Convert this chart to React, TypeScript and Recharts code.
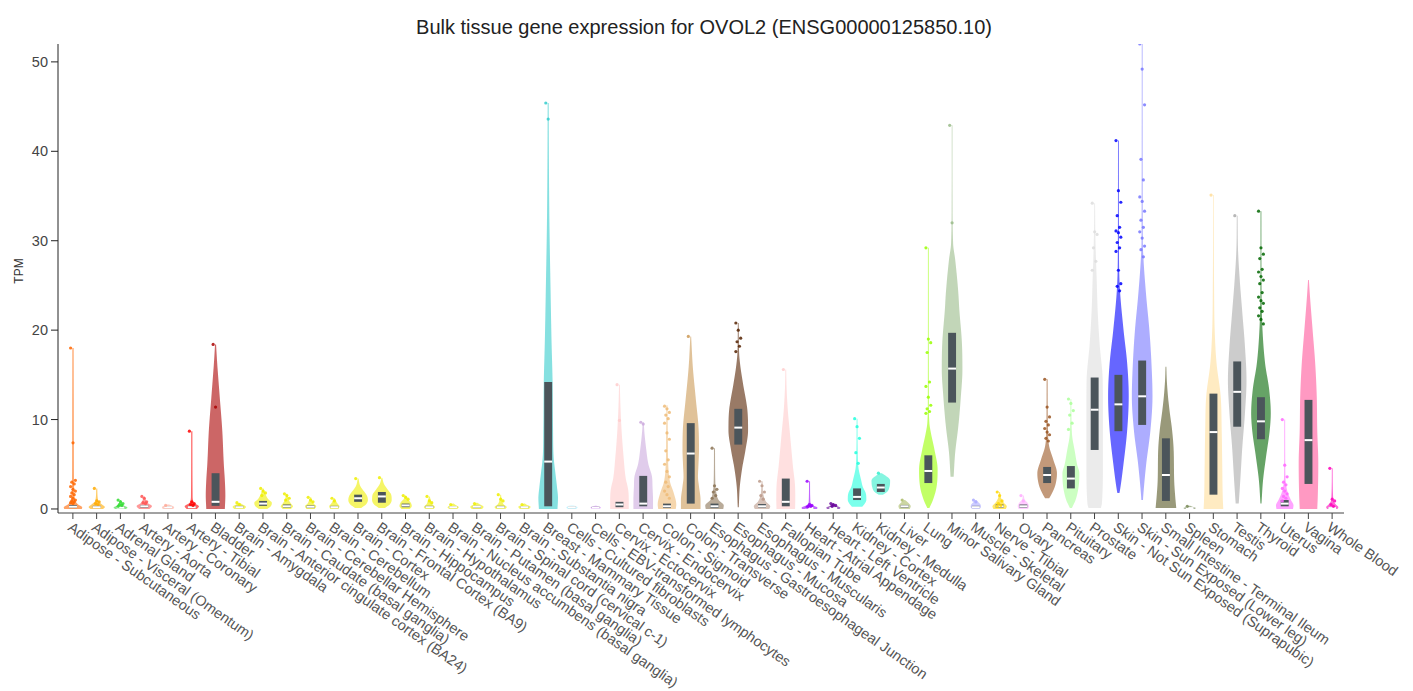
import React from 'react';
import { ComposedChart, Bar, XAxis, YAxis } from 'recharts';

const tissues = [
  'Adipose - Subcutaneous', 'Adipose - Visceral (Omentum)', 'Adrenal Gland', 'Artery - Aorta', 'Artery - Coronary',
  'Artery - Tibial', 'Bladder', 'Brain - Amygdala', 'Brain - Anterior cingulate cortex (BA24)', 'Brain - Caudate (basal ganglia)',
  'Brain - Cerebellar Hemisphere', 'Brain - Cerebellum', 'Brain - Cortex', 'Brain - Frontal Cortex (BA9)', 'Brain - Hippocampus',
  'Brain - Hypothalamus', 'Brain - Nucleus accumbens (basal ganglia)', 'Brain - Putamen (basal ganglia)', 'Brain - Spinal cord (cervical c-1)', 'Brain - Substantia nigra',
  'Breast - Mammary Tissue', 'Cells - Cultured fibroblasts', 'Cells - EBV-transformed lymphocytes', 'Cervix - Ectocervix', 'Cervix - Endocervix',
  'Colon - Sigmoid', 'Colon - Transverse', 'Esophagus - Gastroesophageal Junction', 'Esophagus - Mucosa', 'Esophagus - Muscularis',
  'Fallopian Tube', 'Heart - Atrial Appendage', 'Heart - Left Ventricle', 'Kidney - Cortex', 'Kidney - Medulla',
  'Liver', 'Lung', 'Minor Salivary Gland', 'Muscle - Skeletal', 'Nerve - Tibial',
  'Ovary', 'Pancreas', 'Pituitary', 'Prostate', 'Skin - Not Sun Exposed (Suprapubic)',
  'Skin - Sun Exposed (Lower leg)', 'Small Intestine - Terminal Ileum', 'Spleen', 'Stomach', 'Testis',
  'Thyroid', 'Uterus', 'Vagina', 'Whole Blood',
];

const colors = [
  '#FF6600', '#FFAA00', '#33DD33', '#FF5555', '#FFAA99',
  '#FF0000', '#AA0000', '#EEEE00', '#EEEE00', '#EEEE00',
  '#EEEE00', '#EEEE00', '#EEEE00', '#EEEE00', '#EEEE00',
  '#EEEE00', '#EEEE00', '#EEEE00', '#EEEE00', '#EEEE00',
  '#33CCCC', '#AAEEFF', '#CC66FF', '#FFCCCC', '#CCAADD',
  '#EEBB77', '#CC9955', '#8B7355', '#552200', '#BB9988',
  '#FFCCCC', '#9900FF', '#660099', '#22FFDD', '#33EECC',
  '#AABB66', '#99FF00', '#99BB88', '#AAAAFF', '#FFD700',
  '#FFAAFF', '#995522', '#AAFF99', '#DDDDDD', '#0000FF',
  '#7777FF', '#555522', '#778855', '#FFDD99', '#AAAAAA',
  '#006600', '#FF66FF', '#FF5599', '#FF00BB',
];

// top of each violin (max TPM)
const maxTpm = [
  18.0, 2.3, 1.0, 1.4, 0.5, 8.7, 18.4, 0.7, 2.3, 1.7,
  1.3, 1.2, 3.4, 3.5, 1.5, 1.4, 0.6, 0.7, 1.6, 0.6,
  45.4, 0.4, 0.35, 13.9, 9.7, 11.6, 19.3, 6.8, 20.8, 3.1,
  15.6, 3.1, 0.6, 10.1, 4.0, 1.0, 29.2, 42.9, 1.0, 1.9,
  1.5, 14.5, 12.3, 34.2, 41.2, 52.0, 15.9, 0.35, 35.1, 32.8,
  33.3, 10.0, 25.6, 4.55,
];

const q1 = [
  0.1, 0.1, 0.1, 0.15, 0.1, 0.1, 0.35, 0.1, 0.35, 0.15,
  0.1, 0.1, 0.8, 0.7, 0.2, 0.1, 0.1, 0.1, 0.1, 0.1,
  0.3, 0.1, 0.1, 0.2, 0.3, 0.1, 0.6, 0.1, 7.2, 0.15,
  0.3, 0.05, 0.05, 1.0, 1.9, 0.15, 2.9, 11.9, 0.1, 0.15,
  0.15, 2.9, 2.3, 6.6, 8.7, 9.4, 0.9, 0.05, 1.6, 9.2,
  7.8, 0.3, 2.8, 0.05,
];

const median = [
  0.25, 0.2, 0.15, 0.3, 0.2, 0.2, 0.8, 0.2, 0.6, 0.3,
  0.25, 0.2, 1.2, 1.4, 0.4, 0.2, 0.2, 0.25, 0.2, 0.2,
  5.3, 0.2, 0.15, 0.5, 0.6, 0.3, 6.2, 0.3, 9.1, 0.3,
  0.8, 0.1, 0.1, 1.35, 2.4, 0.3, 4.25, 15.7, 0.2, 0.3,
  0.3, 3.8, 3.4, 11.1, 11.7, 12.6, 3.8, 0.1, 8.6, 13.1,
  9.8, 0.6, 7.7, 0.1,
];

const q3 = [
  0.45, 0.35, 0.25, 0.45, 0.3, 0.35, 4.0, 0.35, 0.9, 0.5,
  0.4, 0.35, 1.6, 1.9, 0.6, 0.35, 0.3, 0.35, 0.35, 0.3,
  14.2, 0.3, 0.25, 0.8, 3.7, 0.6, 9.6, 0.6, 11.2, 0.55,
  3.4, 0.2, 0.2, 2.3, 2.8, 0.45, 6.0, 19.7, 0.35, 0.5,
  0.5, 4.7, 4.8, 14.7, 15.0, 16.6, 7.9, 0.15, 12.9, 16.5,
  12.5, 1.0, 12.2, 0.2,
];

// violin outline: [TPM, relative density width]
const violinProfiles: number[][][] = [
  [[0, 0.85], [0.2, 0.9], [0.5, 0.5], [1, 0.2], [2, 0.12], [3.5, 0.09], [8, 0.08], [18, 0.06]],
  [[0, 0.6], [0.2, 0.8], [0.5, 0.5], [0.9, 0.15], [2.3, 0.05]],
  [[0, 0.5], [0.15, 0.7], [0.4, 0.3], [1.0, 0.05]],
  [[0, 0.5], [0.3, 0.75], [0.7, 0.3], [1.4, 0.05]],
  [[0, 0.5], [0.2, 0.6], [0.5, 0.1]],
  [[0, 0.5], [0.3, 0.7], [0.7, 0.2], [1.5, 0.08], [8.7, 0.06]],
  [[0, 0.9], [1.5, 0.95], [3.2, 0.9], [5, 0.8], [8.8, 0.65], [12.6, 0.4], [16.3, 0.16], [18.4, 0.05]],
  [[0, 0.5], [0.25, 0.65], [0.5, 0.3], [0.7, 0.05]],
  [[0, 0.4], [0.3, 0.75], [0.7, 0.85], [1.1, 0.5], [1.6, 0.25], [2.3, 0.05]],
  [[0, 0.4], [0.3, 0.6], [0.6, 0.4], [1.0, 0.2], [1.7, 0.05]],
  [[0, 0.4], [0.3, 0.55], [0.6, 0.3], [1.3, 0.05]],
  [[0, 0.4], [0.3, 0.5], [0.6, 0.3], [1.2, 0.05]],
  [[0.1, 0.3], [0.5, 0.75], [1.0, 0.95], [1.5, 0.85], [2.0, 0.55], [2.6, 0.2], [3.4, 0.04]],
  [[0.1, 0.3], [0.5, 0.75], [1.0, 0.95], [1.6, 0.9], [2.2, 0.55], [2.8, 0.2], [3.5, 0.04]],
  [[0, 0.4], [0.3, 0.6], [0.7, 0.5], [1.1, 0.2], [1.5, 0.05]],
  [[0, 0.4], [0.2, 0.55], [0.5, 0.3], [1.4, 0.04]],
  [[0, 0.4], [0.2, 0.55], [0.4, 0.3], [0.6, 0.05]],
  [[0, 0.5], [0.25, 0.65], [0.5, 0.3], [0.7, 0.05]],
  [[0, 0.45], [0.2, 0.6], [0.5, 0.3], [1.0, 0.1], [1.6, 0.04]],
  [[0, 0.45], [0.25, 0.6], [0.45, 0.25], [0.6, 0.05]],
  [[0, 0.9], [1.2, 0.95], [2.5, 0.85], [4, 0.7], [5.8, 0.53], [9, 0.47], [14, 0.43], [19, 0.32], [24.5, 0.23], [32, 0.12], [39, 0.07], [45.4, 0.05]],
  [[0, 0.4], [0.15, 0.55], [0.3, 0.4], [0.4, 0.1]],
  [[0, 0.35], [0.15, 0.5], [0.3, 0.25], [0.35, 0.05]],
  [[0, 0.9], [1, 0.9], [2.1, 0.85], [3.5, 0.6], [5.8, 0.4], [8, 0.25], [10, 0.15], [12, 0.08], [13.9, 0.04]],
  [[0, 0.95], [1, 0.95], [2.5, 0.9], [3.6, 0.85], [5, 0.5], [6.6, 0.3], [8.5, 0.12], [9.7, 0.05]],
  [[0, 0.85], [0.5, 0.9], [1.8, 0.65], [3, 0.3], [5, 0.12], [8, 0.08], [11.6, 0.05]],
  [[0, 0.95], [1, 0.95], [2.5, 0.8], [3.6, 0.7], [5, 0.75], [6.6, 0.8], [9.2, 0.75], [12.2, 0.5], [15.9, 0.2], [19.3, 0.04]],
  [[0, 0.85], [0.4, 0.9], [1, 0.4], [2, 0.15], [3, 0.08], [6.8, 0.05]],
  [[0.2, 0.05], [2.5, 0.15], [4.7, 0.4], [6.6, 0.7], [8.8, 0.95], [11.1, 0.88], [14.1, 0.45], [16, 0.2], [17.5, 0.08], [20.8, 0.04]],
  [[0, 0.7], [0.3, 0.8], [0.8, 0.4], [1.5, 0.15], [3.1, 0.05]],
  [[0, 0.9], [1, 0.92], [2.5, 0.9], [4.7, 0.7], [8.5, 0.4], [11, 0.2], [13.5, 0.08], [15.6, 0.04]],
  [[0, 0.7], [0.15, 0.8], [0.4, 0.3], [0.8, 0.08], [3.1, 0.05]],
  [[0, 0.6], [0.15, 0.7], [0.35, 0.3], [0.6, 0.05]],
  [[0.25, 0.5], [0.6, 0.75], [1, 0.9], [1.75, 0.85], [2.5, 0.55], [3.2, 0.4], [4.5, 0.15], [6, 0.07], [10.1, 0.04]],
  [[1.6, 0.2], [1.9, 0.6], [2.5, 0.85], [3.2, 0.9], [3.7, 0.5], [4.0, 0.1]],
  [[0, 0.5], [0.3, 0.6], [0.7, 0.35], [1.0, 0.05]],
  [[0.1, 0.1], [1, 0.45], [2.5, 0.8], [4.4, 0.9], [6.6, 0.6], [8.5, 0.25], [9.6, 0.1], [12, 0.05], [29.2, 0.04]],
  [[3.6, 0.15], [6.3, 0.3], [9.2, 0.6], [12.6, 0.85], [15.6, 1.0], [18.6, 0.95], [22.3, 0.7], [24.2, 0.6], [27.9, 0.3], [29.7, 0.1], [35, 0.04], [42.9, 0.03]],
  [[0, 0.35], [0.2, 0.5], [0.5, 0.45], [0.8, 0.2], [1.0, 0.05]],
  [[0, 0.6], [0.3, 0.7], [0.7, 0.4], [1.2, 0.15], [1.9, 0.04]],
  [[0, 0.45], [0.3, 0.55], [0.7, 0.4], [1.0, 0.15], [1.5, 0.04]],
  [[1.2, 0.2], [1.6, 0.4], [2.5, 0.75], [3.4, 0.92], [4.0, 0.95], [5.5, 0.6], [7, 0.2], [9, 0.08], [14.5, 0.05]],
  [[0.1, 0.1], [1, 0.45], [2.5, 0.75], [4, 0.82], [5, 0.6], [6.3, 0.4], [8.5, 0.1], [12.3, 0.04]],
  [[0.1, 0.6], [0.6, 0.7], [5.1, 0.8], [10.7, 0.8], [14.4, 0.78], [18.2, 0.5], [22, 0.3], [25.6, 0.2], [30, 0.08], [34.2, 0.04]],
  [[1.8, 0.1], [2.1, 0.15], [5.1, 0.5], [8.8, 0.85], [12.6, 1.0], [16.3, 0.85], [20, 0.5], [24.5, 0.15], [28, 0.06], [41.2, 0.04]],
  [[1.0, 0.08], [1.4, 0.1], [5.1, 0.4], [8.8, 0.8], [12.6, 1.0], [16.3, 0.9], [20, 0.7], [23.7, 0.4], [27.5, 0.15], [30, 0.06], [52, 0.04]],
  [[0.1, 1.0], [1.4, 0.9], [3.2, 0.8], [6.6, 0.75], [8.8, 0.6], [11, 0.35], [12.6, 0.2], [14.5, 0.08], [15.9, 0.04]],
  [[0, 0.5], [0.1, 0.6], [0.25, 0.3], [0.35, 0.05]],
  [[0, 0.95], [1.4, 0.9], [5.1, 0.85], [8.8, 0.8], [12.6, 0.7], [16.3, 0.3], [20, 0.12], [25, 0.06], [35.1, 0.03]],
  [[0.6, 0.15], [3.2, 0.3], [7.0, 0.5], [10.7, 0.75], [14.4, 0.9], [18.2, 0.75], [21.9, 0.5], [25.6, 0.25], [29, 0.08], [32.8, 0.04]],
  [[0.6, 0.05], [3.2, 0.2], [5.9, 0.5], [8.8, 0.85], [10.7, 0.95], [13.3, 0.8], [16.3, 0.4], [20, 0.15], [24, 0.06], [33.3, 0.04]],
  [[0, 0.8], [0.4, 0.85], [1, 0.6], [1.8, 0.3], [3, 0.1], [5, 0.05], [10, 0.04]],
  [[0, 0.85], [1.4, 0.9], [5.1, 0.95], [8.8, 0.85], [12.6, 0.8], [16.3, 0.65], [20, 0.4], [23.7, 0.15], [25.6, 0.04]],
  [[0, 0.5], [0.2, 0.6], [0.5, 0.35], [1, 0.1], [4.55, 0.04]],
];

const outlierPoints: number[][] = [
  [18.0, 7.4, 3.2, 3.0, 2.8, 2.5, 2.2, 2.0, 1.8, 1.6, 1.4, 1.2, 1.0, 0.9, 0.8, 0.7, 0.6],
  [2.3, 0.9, 0.8, 0.6, 0.5],
  [1.0, 0.8, 0.6, 0.5, 0.4, 0.3],
  [1.4, 1.2, 0.8, 0.7, 0.6],
  [0.4],
  [8.7, 0.8, 0.6, 0.5, 0.4],
  [18.4, 11.4],
  [0.7, 0.5],
  [2.3, 2.0, 1.8, 1.5],
  [1.7, 1.5, 1.2, 1.0],
  [1.3, 1.0, 0.8],
  [1.2, 0.9],
  [3.4],
  [3.5],
  [1.5, 1.3, 1.1],
  [1.4, 0.9, 0.7],
  [0.5],
  [0.6],
  [1.6, 1.1, 0.9],
  [0.5],
  [45.4, 43.6],
  [],
  [],
  [13.9, 9.9],
  [9.7, 9.5],
  [11.5, 11.2, 10.8, 10.5, 10.1, 9.6, 8.5, 7.8, 6.5, 5.5, 5.0, 4.2, 3.6, 3.0, 2.5, 2.0, 1.6, 1.2],
  [19.3],
  [6.8, 2.6, 2.2, 1.9, 1.5, 1.2],
  [20.8, 20.0, 19.1, 18.7, 18.2, 17.6],
  [3.1, 2.6, 1.9, 1.5, 1.1],
  [15.6],
  [3.1, 0.5, 0.4, 0.3, 0.3, 0.2],
  [0.6, 0.5, 0.4, 0.3],
  [10.1, 9.2, 7.9, 6.3, 5.1],
  [4.0],
  [1.0],
  [29.2, 19.0, 18.6, 17.5, 14.2, 13.7, 12.5, 11.6, 11.2, 10.9, 10.7],
  [42.9, 32.0],
  [1.0, 0.8],
  [1.9, 1.5, 0.9, 0.6, 0.4, 0.3],
  [1.5, 0.9],
  [14.5, 11.4, 10.3, 9.8, 9.4, 9.0, 8.6, 8.3, 7.9, 7.6],
  [12.3, 11.8, 11.0, 10.5, 9.6, 8.9],
  [34.2, 31.0, 30.7, 29.2, 27.7, 26.7],
  [41.2, 35.6, 34.3, 32.8, 31.5, 31.1, 30.9, 30.4, 29.8, 29.2, 28.8, 26.7, 25.2, 24.9, 24.4],
  [52.0, 49.2, 45.2, 39.1, 36.8, 34.9, 34.4, 33.3, 32.3, 31.5, 31.0, 30.3, 29.4, 29.0, 28.2],
  [],
  [0.3],
  [35.1],
  [32.8],
  [33.3, 29.2, 28.5, 28.0, 26.8, 26.5, 26.0, 25.6, 25.2, 24.2, 23.7, 23.3, 23.0, 22.5, 22.1, 21.6, 21.2, 20.7],
  [10.0, 4.9, 3.6, 3.0, 2.7, 2.3, 2.0, 1.7, 1.4, 1.2, 0.9],
  [],
  [4.55, 1.1, 0.9, 0.5, 0.3],
];

const yTicks = [0, 10, 20, 30, 40, 50];

const chartData = tissues.map((t, i) => ({ tissue: t, idx: i, range: [0, maxTpm[i]] }));

const FONT = '"Liberation Sans", Arial, sans-serif';

// monotone cubic (Fritsch-Carlson) interpolation for smooth violin outlines
function makeMonotone(xs: number[], ys: number[]) {
  const n = xs.length;
  if (n === 1) return () => ys[0];
  const d: number[] = [];
  for (let i = 0; i < n - 1; i++) d.push((ys[i + 1] - ys[i]) / (xs[i + 1] - xs[i]));
  const m: number[] = new Array(n);
  m[0] = d[0];
  m[n - 1] = d[n - 2];
  for (let i = 1; i < n - 1; i++) m[i] = d[i - 1] * d[i] <= 0 ? 0 : (d[i - 1] + d[i]) / 2;
  for (let i = 0; i < n - 1; i++) {
    if (d[i] === 0) { m[i] = 0; m[i + 1] = 0; continue; }
    const a = m[i] / d[i];
    const b = m[i + 1] / d[i];
    const s = a * a + b * b;
    if (s > 9) {
      const t = 3 / Math.sqrt(s);
      m[i] = t * a * d[i];
      m[i + 1] = t * b * d[i];
    }
  }
  return (x: number) => {
    if (x <= xs[0]) return ys[0];
    if (x >= xs[n - 1]) return ys[n - 1];
    let i = 0;
    while (i < n - 2 && x > xs[i + 1]) i++;
    const h = xs[i + 1] - xs[i];
    const t = (x - xs[i]) / h;
    const t2 = t * t;
    const t3 = t2 * t;
    return (2 * t3 - 3 * t2 + 1) * ys[i] + (t3 - 2 * t2 + t) * h * m[i] + (-2 * t3 + 3 * t2) * ys[i + 1] + (t3 - t2) * h * m[i + 1];
  };
}

const ViolinShape = (props: any) => {
  const { x, y, width, height, payload } = props;
  if (payload == null || !Number.isFinite(y) || !Number.isFinite(height)) return null;
  const i: number = payload.idx;
  const top = maxTpm[i];
  const top_px = Math.min(y, y + height);
  const h = Math.abs(height);
  const base = top_px + h;
  const py = (v: number) => base - (v / top) * h;
  const cx = x + width / 2;
  const halfMax = width * 0.43;
  const prof = violinProfiles[i];
  const vs = prof.map((p) => p[0]);
  const ws = prof.map((p) => p[1]);
  const f = makeMonotone(vs, ws);
  const vLo = vs[0];
  const vHi = vs[vs.length - 1];
  const pLo = py(vLo);
  const pHi = py(vHi);
  const steps = Math.max(8, Math.ceil(pLo - pHi));
  const right: string[] = [];
  const left: string[] = [];
  for (let k = 0; k <= steps; k++) {
    const v = vLo + ((vHi - vLo) * k) / steps;
    const w = Math.max(0.35, f(v) * halfMax);
    const yy = py(v);
    right.push(`${(cx + w).toFixed(2)},${yy.toFixed(2)}`);
    left.push(`${(cx - w).toFixed(2)},${yy.toFixed(2)}`);
  }
  const path = `M${left[0]} L${left.join(' L')} L${right.reverse().join(' L')} Z`;
  const color = colors[i];
  const boxW = width * 0.33;
  const yq3 = py(q3[i]);
  const yq1 = py(q1[i]);
  const ymed = py(median[i]);
  const pts = outlierPoints[i];
  return (
    <g>
      <path d={path} fill={color} fillOpacity={0.6} stroke="none" />
      <rect x={cx - boxW / 2} y={yq3} width={boxW} height={Math.max(1, yq1 - yq3)} fill="#4b555b" />
      <rect x={cx - boxW / 2} y={ymed - 1} width={boxW} height={2} fill="#ffffff" />
      {pts.map((v, k) => (
        <circle key={k} cx={cx + ((k * 7) % 5 - 2) * 1.2} cy={py(v)} r={1.6} fill={color} fillOpacity={0.85} />
      ))}
    </g>
  );
};

const XTick = (props: any) => {
  const { x, y, payload } = props;
  return (
    <text
      x={x}
      y={y}
      transform={`rotate(35, ${x}, ${y})`}
      textAnchor="start"
      dy="0.72em"
      fontSize={14.5}
      fill="#555"
      fontFamily={FONT}
    >
      {payload.value}
    </text>
  );
};

export default function App() {
  return (
    <div style={{ position: 'relative', width: 1400, height: 684 }}>
      <div
        style={{
          position: 'absolute', left: 0, top: 7, width: 1392, textAlign: 'center',
          fontFamily: FONT, fontSize: 20, lineHeight: '24px', color: '#222',
        }}
      >
        Bulk tissue gene expression for OVOL2 (ENSG00000125850.10)
      </div>
      <div
        style={{
          position: 'absolute', left: -9, top: 255, width: 40, textAlign: 'center',
          fontFamily: FONT, fontSize: 12, lineHeight: '16px', color: '#333', transform: 'rotate(-90deg)',
        }}
      >
        TPM
      </div>
      <ComposedChart
        width={1400}
        height={684}
        data={chartData}
        margin={{ top: 36, right: 64, left: 10, bottom: 5 }}
        barCategoryGap={0}
        barGap={0}
      >
        <XAxis
          dataKey="tissue"
          interval={0}
          height={174}
          tick={<XTick />}
          tickSize={6}
          tickMargin={2}
          padding={{ left: 3, right: 0 }}
          axisLine={{ stroke: '#444' }}
          tickLine={{ stroke: '#444' }}
        />
        <YAxis
          type="number"
          domain={[-0.45, 52]}
          ticks={yTicks}
          allowDataOverflow
          width={40}
          tickSize={7}
          tickMargin={3}
          tick={{ fontSize: 14.5, fill: '#444', fontFamily: FONT }}
          axisLine={{ stroke: '#222' }}
          tickLine={{ stroke: '#222' }}
        />
        <Bar dataKey="range" shape={<ViolinShape />} isAnimationActive={false} />
      </ComposedChart>
    </div>
  );
}
